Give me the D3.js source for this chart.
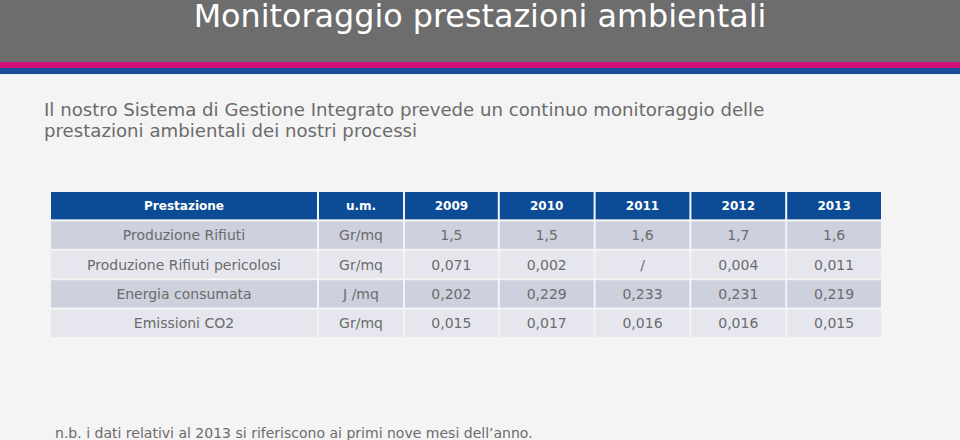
<!DOCTYPE html>
<html>
<head>
<meta charset="utf-8">
<script src="https://cdn.jsdelivr.net/npm/d3@7"></script>
<style>
  html, body { margin: 0; padding: 0; background: #f4f4f4; }
  svg { display: block; }
</style>
</head>
<body>
<svg id="chart" width="960" height="440"></svg>
<script>
const title = "Monitoraggio prestazioni ambientali";
const subtitleLines = [
  "Il nostro Sistema di Gestione Integrato prevede un continuo monitoraggio delle",
  "prestazioni ambientali dei nostri processi"
];
const headerLabels = ["Prestazione", "u.m."];
const years = ["2009", "2010", "2011", "2012", "2013"];
const indicators = ["Produzione Rifiuti", "Produzione Rifiuti pericolosi", "Energia consumata", "Emissioni CO2"];
const units = ["Gr/mq", "Gr/mq", "J /mq", "Gr/mq"];
const valuesRifiuti = ["1,5", "1,5", "1,6", "1,7", "1,6"];
const valuesPericolosi = ["0,071", "0,002", "/", "0,004", "0,011"];
const valuesEnergia = ["0,202", "0,229", "0,233", "0,231", "0,219"];
const valuesCO2 = ["0,015", "0,017", "0,016", "0,016", "0,015"];
const footnote = "n.b. i dati relativi al 2013 si riferiscono ai primi nove mesi dell\u2019anno.";

const seriesValues = [valuesRifiuti, valuesPericolosi, valuesEnergia, valuesCO2];

const svg = d3.select("#chart");
const W = 960, H = 440;
const font = "'DejaVu Sans', Verdana, sans-serif";

function fitWidth(sel, base, target) {
  const len = sel.node().getComputedTextLength();
  sel.attr("font-size", base * target / len);
}

svg.append("rect").attr("width", W).attr("height", H).attr("fill", "#f4f4f4");

// Header band
svg.append("rect").attr("x", 0).attr("y", 0).attr("width", W).attr("height", 62).attr("fill", "#6d6d6d");
svg.append("rect").attr("x", 0).attr("y", 62).attr("width", W).attr("height", 6).attr("fill", "#d1127b");
svg.append("rect").attr("x", 0).attr("y", 68).attr("width", W).attr("height", 6).attr("fill", "#1a4f97");
svg.append("rect").attr("x", 0).attr("y", 74).attr("width", W).attr("height", 1).attr("fill", "#e4eef6");

const t = svg.append("text")
  .attr("x", 480).attr("y", 27)
  .attr("text-anchor", "middle")
  .attr("font-family", font)
  .attr("font-size", 28)
  .attr("fill", "#ffffff")
  .text(title);
fitWidth(t, 28, 573);

const subs = svg.selectAll("text.sub")
  .data(subtitleLines)
  .join("text")
  .attr("class", "sub")
  .attr("x", 44)
  .attr("y", (d, i) => 116 + i * 21)
  .attr("font-family", font)
  .attr("font-size", 18)
  .attr("fill", "#6b6b6b")
  .text(d => d);
{
  const first = subs.filter((d, i) => i === 0);
  const len = first.node().getComputedTextLength();
  subs.attr("font-size", 18 * 721 / len);
}

// Table
const tableLeft = 51, tableRight = 881, umLeft = 318, yearsLeft = 404;
const rowKeys = ["header"].concat(indicators);
const yRow = d3.scaleBand().domain(rowKeys).range([192, 337]).paddingInner(0.07).paddingOuter(0);
const xYear = d3.scaleBand().domain(years).range([yearsLeft, tableRight]).paddingInner(0.021);

const gap = 2;
const columns = [
  { key: "prest", x0: tableLeft, x1: umLeft - gap / 2 },
  { key: "um", x0: umLeft + gap / 2, x1: yearsLeft - gap / 2 }
].concat(years.map((yr, i) => ({ key: yr, x0: xYear(yr) + (i === 0 ? gap / 2 : 0), x1: xYear(yr) + xYear.bandwidth() })));

const g = svg.append("g");

rowKeys.forEach((rk, ri) => {
  const isHeader = ri === 0;
  const fill = isHeader ? "#0c4c96" : (ri % 2 === 1 ? "#cdd1de" : "#e6e7ee");
  const texts = isHeader
    ? headerLabels.concat(years)
    : [indicators[ri - 1], units[ri - 1]].concat(seriesValues[ri - 1]);
  const row = g.append("g");
  row.selectAll("rect")
    .data(columns)
    .join("rect")
    .attr("x", c => c.x0)
    .attr("y", yRow(rk))
    .attr("width", c => c.x1 - c.x0)
    .attr("height", yRow.bandwidth())
    .attr("fill", fill);
  row.selectAll("text")
    .data(columns)
    .join("text")
    .attr("x", c => (c.x0 + c.x1) / 2)
    .attr("y", yRow(rk) + yRow.bandwidth() / 2)
    .attr("dy", "0.36em")
    .attr("text-anchor", "middle")
    .attr("font-family", font)
    .attr("font-size", isHeader ? 12 : 14)
    .attr("font-weight", isHeader ? "bold" : "normal")
    .attr("fill", isHeader ? "#ffffff" : "#6b6b6b")
    .text((c, i) => texts[i]);
});

const fn = svg.append("text")
  .attr("x", 55).attr("y", 438)
  .attr("font-family", font)
  .attr("font-size", 14)
  .attr("fill", "#6b6b6b")
  .text(footnote);
fitWidth(fn, 14, 478);
</script>
</body>
</html>
